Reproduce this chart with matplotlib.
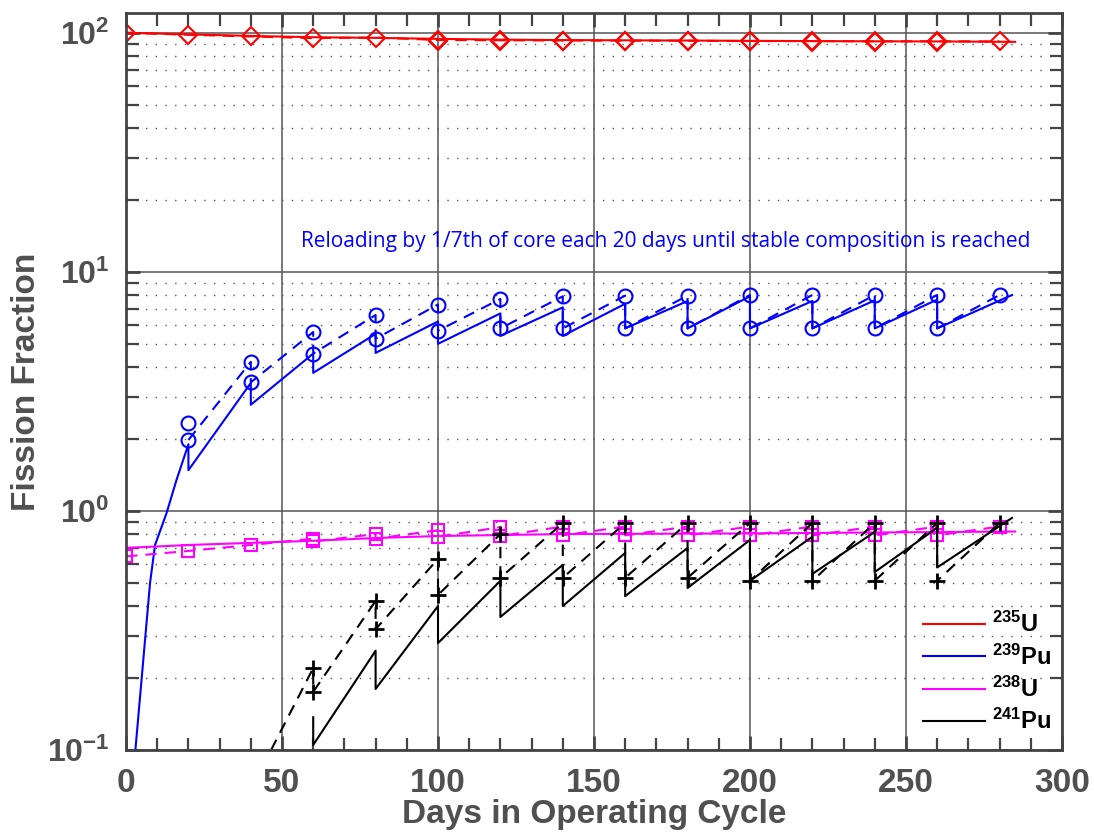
#! /usr/bin/env python3
'''Fission fractions over the operating cycle (log scale).'''

import matplotlib.pyplot as plt
from matplotlib.lines import Line2D
from matplotlib.ticker import LogLocator, MultipleLocator, NullFormatter

plt.rcParams['font.family'] = ['Liberation Sans', 'DejaVu Sans']
plt.rcParams['mathtext.default'] = 'regular'

GRAY = '#505050'

# --- data -----------------------------------------------------------------
# 235U
u235_days = [0, 20, 40, 60, 80, 100, 120, 140, 160, 180, 200, 220, 240, 260, 285]
u235_solid = [100, 98.5, 97, 95.8, 95.2, 94.3, 93.6, 93.2, 93.0, 92.8, 92.5, 92.3, 92.1, 92.0, 91.6]
u235_mark_days = [0, 20, 40, 60, 80, 100, 120, 140, 160, 180, 200, 220, 240, 260, 280]
u235_mark = [100, 98.1, 96.5, 95.0, 95.5, 93.3, 93.0, 92.8, 92.7, 92.6, 92.3, 92.3, 92.1, 92.1, 92.0]
u235_mark2_days = [100, 120, 140, 160, 180, 200, 220, 240, 260]
u235_mark2 = [92.6, 92.4, 92.2, 92.2, 92.0, 92.0, 91.9, 91.8, 91.8]

# 239Pu
pu239_days = [3, 7.7, 9.3, 13, 16.2, 20, 20, 40, 40, 60, 60, 80, 80, 100, 100,
              120, 120, 140, 140, 160, 160, 180, 180, 200, 200, 220, 220,
              240, 240, 260, 260, 284]
pu239_solid = [0.1, 0.5, 0.72, 0.98, 1.35, 1.9, 1.48, 3.43, 2.78, 4.55, 3.78,
               5.5, 4.58, 6.2, 5.0, 6.7, 5.4, 7.1, 5.4, 7.35, 5.8, 7.55, 5.8,
               7.9, 5.8, 7.55, 5.8, 7.6, 5.8, 7.65, 5.8, 8.0]
pu239_hi_days = [20, 40, 60, 80, 100, 120, 140, 160, 180, 200, 220, 240, 260, 280]
pu239_hi = [2.33, 4.2, 5.6, 6.6, 7.3, 7.7, 7.9, 7.95, 7.95, 8.0, 8.0, 8.0, 8.0, 8.0]
pu239_lo_days = [20, 40, 60, 80, 100, 120, 140, 160, 180, 200, 220, 240, 260]
pu239_lo = [1.98, 3.45, 4.55, 5.25, 5.67, 5.8, 5.8, 5.8, 5.8, 5.8, 5.8, 5.8, 5.8]

# 238U
u238_days = [0, 20, 40, 60, 80, 100, 140, 200, 285]
u238_solid = [0.70, 0.72, 0.735, 0.75, 0.77, 0.785, 0.80, 0.805, 0.82]
u238_hi_days = [0, 20, 40, 60, 80, 100, 120, 140, 160, 180, 200, 220, 240, 260, 280]
u238_hi = [0.645, 0.68, 0.72, 0.765, 0.80, 0.83, 0.855, 0.86, 0.86, 0.86, 0.86, 0.86, 0.86, 0.86, 0.86]
u238_lo_days = [60, 80, 100, 120, 140, 160, 180, 200, 220, 240, 260]
u238_lo = [0.745, 0.765, 0.78, 0.785, 0.79, 0.79, 0.79, 0.79, 0.79, 0.79, 0.79]

# 241Pu
pu241_days = [60, 60, 80, 80, 100, 100, 120, 120, 140, 140, 160, 160, 180, 180,
              200, 200, 220, 220, 240, 240, 260, 260, 284]
pu241_solid = [0.137, 0.105, 0.26, 0.18, 0.40, 0.28, 0.51, 0.36, 0.595, 0.40,
               0.667, 0.44, 0.70, 0.476, 0.756, 0.51, 0.78, 0.545, 0.817, 0.555,
               0.85, 0.58, 0.935]
pu241_start = [46.5, 0.1]
pu241_hi_days = [60, 80, 100, 120, 140, 160, 180, 200, 220, 240, 260, 280]
pu241_hi = [0.22, 0.42, 0.63, 0.80, 0.89, 0.89, 0.89, 0.89, 0.89, 0.89, 0.89, 0.89]
pu241_lo_days = [60, 80, 100, 120, 140, 160, 180, 200, 220, 240, 260]
pu241_lo = [0.175, 0.32, 0.445, 0.525, 0.525, 0.525, 0.525, 0.51, 0.51, 0.51, 0.51]

note = 'Reloading by 1/7th of core each 20 days until stable composition is reached'
legend_labels = ['$^{235}$U', '$^{239}$Pu', '$^{238}$U', '$^{241}$Pu']
colors = ['red', 'blue', 'magenta', 'black']


def sawtooth(hi_days, hi, lo_days, lo, start=None):
    '''Joins pre-reload (hi) and post-reload (lo) values into one path.'''
    xs, ys = [], []
    if start is not None:
        xs.append(start[0])
        ys.append(start[1])
    lo_map = dict(zip(lo_days, lo))
    for d, v in zip(hi_days, hi):
        xs.append(d)
        ys.append(v)
        if d in lo_map:
            xs.append(d)
            ys.append(lo_map[d])
    return xs, ys


fig = plt.figure(figsize=(10.94, 8.32), dpi=100)
ax = fig.add_axes([0.1152, 0.0986, 0.8555, 0.8858])
ax.set_yscale('log')
ax.set_xlim(0, 300)
ax.set_ylim(0.1, 121)

dash = (5.5, 3.8)
lw = 1.5

# 235U
ax.plot(u235_days, u235_solid, color='red', lw=lw)
ax.plot(u235_mark_days, u235_mark, color='red', lw=lw, dashes=dash,
        marker='D', ms=9, mfc='none', mew=1.5)
ax.plot(u235_mark2_days, u235_mark2, ls='none', color='red',
        marker='D', ms=9, mfc='none', mew=1.5)

# 239Pu
ax.plot(pu239_days, pu239_solid, color='blue', lw=lw)
x, y = sawtooth(pu239_hi_days, pu239_hi, pu239_lo_days, pu239_lo)
x, y = x[1:], y[1:]  # dashed curve starts after the first reload
ax.plot(x, y, color='blue', lw=lw, dashes=dash)
ax.plot(pu239_hi_days, pu239_hi, ls='none', color='blue', marker='o', ms=10, mfc='none', mew=1.5)
ax.plot(pu239_lo_days, pu239_lo, ls='none', color='blue', marker='o', ms=10, mfc='none', mew=1.5)

# 238U
ax.plot(u238_days, u238_solid, color='magenta', lw=lw)
x, y = sawtooth(u238_hi_days, u238_hi, u238_lo_days, u238_lo)
ax.plot(x, y, color='magenta', lw=lw, dashes=dash)
ax.plot(u238_hi_days, u238_hi, ls='none', color='magenta', marker='s', ms=8, mfc='none', mew=1.5)
ax.plot(u238_lo_days, u238_lo, ls='none', color='magenta', marker='s', ms=8, mfc='none', mew=1.5)

# 241Pu
ax.plot(pu241_days, pu241_solid, color='black', lw=lw)
x, y = sawtooth(pu241_hi_days, pu241_hi, pu241_lo_days, pu241_lo, start=pu241_start)
ax.plot(x, y, color='black', lw=lw, dashes=dash)
ax.plot(pu241_hi_days, pu241_hi, ls='none', color='black', marker='+', ms=11, mew=2)
ax.plot(pu241_lo_days, pu241_lo, ls='none', color='black', marker='+', ms=11, mew=2)

# axes styling
ax.xaxis.set_major_locator(MultipleLocator(50))
ax.xaxis.set_minor_locator(MultipleLocator(10))
ax.yaxis.set_major_locator(LogLocator(base=10, numticks=10))
ax.yaxis.set_minor_locator(LogLocator(base=10, subs=range(2, 10), numticks=10))
ax.yaxis.set_minor_formatter(NullFormatter())

ax.grid(which='major', color='#555555', lw=1.1, ls='-')
ax.grid(which='minor', axis='y', color='#555555', lw=1.0, ls=(0, (1, 6)))
ax.set_axisbelow(True)

ax.tick_params(which='both', direction='in', top=True, right=True,
               colors='#444444', labelcolor=GRAY)
ax.tick_params(which='major', length=10, width=2)
ax.tick_params(which='minor', length=9, width=1.6)
ax.tick_params(axis='x', which='major', labelsize=24, pad=13)
ax.tick_params(axis='y', which='major', labelsize=23, pad=12)
for lab in ax.get_xticklabels() + ax.get_yticklabels():
    lab.set_fontweight('bold')
for sp in ax.spines.values():
    sp.set_color('#444444')
    sp.set_linewidth(2)

ax.set_xlabel('Days in Operating Cycle', fontsize=24, fontweight='bold',
              color=GRAY, labelpad=0)
ax.set_ylabel('Fission Fraction', fontsize=24, fontweight='bold',
              color=GRAY, labelpad=3)

ax.text(0.577, 0.69, note, transform=ax.transAxes, ha='center', va='center',
        color='blue', fontsize=15, family=['Open Sans', 'DejaVu Sans'])

handles = [Line2D([], [], color=c, lw=1.5) for c in colors]
leg = ax.legend(handles, legend_labels, loc='upper left',
                bbox_to_anchor=(0.829, 0.216), frameon=False,
                handlelength=2.6, handletextpad=0.3, labelspacing=0.3,
                prop={'weight': 'bold', 'size': 17})

fig.savefig('out.png', dpi=100)
